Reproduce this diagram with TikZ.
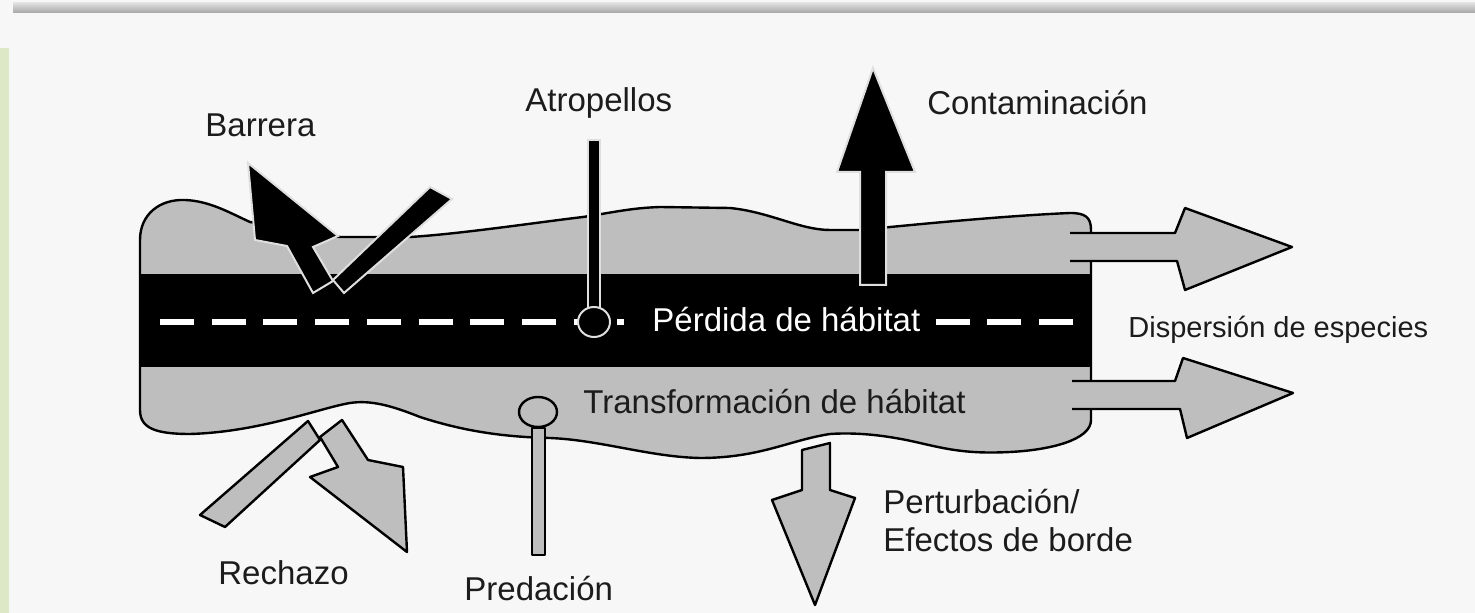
\documentclass[tikz,border=0pt]{standalone}
\usepackage{fontspec}
\setmainfont{Liberation Sans}
\usepackage{xcolor}
\definecolor{habgray}{HTML}{BEBEBE}
\definecolor{bggray}{HTML}{F7F7F7}
\definecolor{stripgreen}{HTML}{DDE9C6}
\definecolor{inkgray}{HTML}{1C1C1C}

\begin{document}
\begin{tikzpicture}[x=0.5pt, y=-0.5pt,
    lbl/.style={anchor=base west, inner sep=0pt, text=inkgray, font=\fontsize{16.5}{19.8}\selectfont},
    habitat/.style={fill=habgray, draw=black, line width=1.2pt, line join=round},
    blackpart/.style={fill=black, draw=gray!25, line width=1pt}]
    \fill[bggray] (0, 0) rectangle (1475, 613);
    \useasboundingbox (0, 0) rectangle (1475, 613);
    \shade[top color=gray!25, bottom color=gray!70] (13, 3) rectangle (1475, 13);
    \fill[stripgreen] (0, 48) rectangle (9, 613);
    \draw[habitat] (140, 410) -- (140, 240)
        .. controls (140, 214) and (160, 199) .. (185, 200)
        .. controls (210, 201) and (230, 213) .. (250, 222) -- (340, 237) -- (410, 237)
        .. controls (460, 234) and (540, 222) .. (583, 217)
        .. controls (610, 213) and (630, 208) .. (660, 207) -- (730, 208)
        .. controls (770, 212) and (800, 230) .. (830, 230) -- (860, 230)
        .. controls (900, 226) and (1000, 216) .. (1070, 213)
        .. controls (1085, 213) and (1091, 217) .. (1091, 230) -- (1091, 420)
        .. controls (1091, 440) and (1050, 450) .. (1010, 452)
        .. controls (970, 454) and (950, 450) .. (920, 443)
        .. controls (890, 436) and (860, 432) .. (830, 434)
        .. controls (790, 440) and (760, 458) .. (700, 458)
        .. controls (650, 457) and (600, 440) .. (550, 438)
        .. controls (500, 437) and (460, 430) .. (420, 417)
        .. controls (390, 405) and (370, 400) .. (350, 403)
        .. controls (320, 408) and (260, 432) .. (190, 434)
        .. controls (155, 434) and (140, 428) .. (140, 410) -- cycle;
    \fill[black] (140, 274) rectangle (1091, 367);
    \foreach \k in {0,...,8,15,16,17} {
        \draw[white, line width=3pt] ({160 + 51.7*\k}, 322) -- ++(34, 0);
    }
    \draw[white, line width=3pt] (617, 322) -- (624, 322);
    \draw[blackpart] (430, 187) -- (452, 199) -- (344, 293) -- (333, 280) -- cycle;
    \draw[blackpart] (248, 163) -- (338, 236) -- (313, 247) -- (333, 281) -- (313, 293) -- (287, 246) -- (255, 240) -- cycle;
    \draw[blackpart] (588, 140) rectangle (600, 308);
    \draw[blackpart] (594, 322) ellipse [x radius=16, y radius=15];
    \draw[blackpart] (873, 68) -- (915, 172) -- (886, 172) -- (886, 285) -- (860, 285) -- (860, 172) -- (837, 172) -- cycle;
    \filldraw[habitat] (1070, 233) -- (1175, 233) -- (1185, 208) -- (1292, 247) -- (1185, 290) -- (1177, 261) -- (1070, 261);
    \filldraw[habitat] (1072, 381) -- (1175, 381) -- (1183, 358) -- (1293, 393) -- (1187, 438) -- (1180, 409) -- (1072, 409);
    \draw[habitat] (532, 428) rectangle (545, 555);
    \draw[habitat] (538, 412) ellipse [x radius=19, y radius=15];
    \draw[habitat] (342, 420) -- (368, 460) -- (403, 467) -- (407, 552) -- (310, 477) -- (338, 467) -- (320, 437) -- cycle;
    \draw[habitat] (308, 421) -- (320, 440) -- (225, 527) -- (200, 515) -- cycle;
    \draw[habitat] (802, 450) -- (830, 443) -- (830, 490) -- (855, 498) -- (815, 605) -- (772, 500) -- (802, 490) -- cycle;
    \node[lbl] (barrera) at (205, 137) {Barrera};
    \node[lbl] (atropellos) at (525, 112) {Atropellos};
    \node[lbl] (contaminacion) at (927, 115) {Contaminación};
    \node[lbl, text=white] (perdida) at (652, 332) {Pérdida de hábitat};
    \node[lbl] (transformacion) at (583, 414) {Transformación de hábitat};
    \node[lbl, font=\fontsize{14.5}{17.4}\selectfont] (dispersion) at (1128, 338) {Dispersión de especies};
    \node[lbl] (rechazo) at (218, 584) {Rechazo};
    \node[lbl] (predacion) at (464, 600) {Predación};
    \node[lbl] (perturbacion) at (883, 514) {Perturbación/};
    \node[lbl] (efectos) at (883, 552) {Efectos de borde};
\end{tikzpicture}
\end{document}
